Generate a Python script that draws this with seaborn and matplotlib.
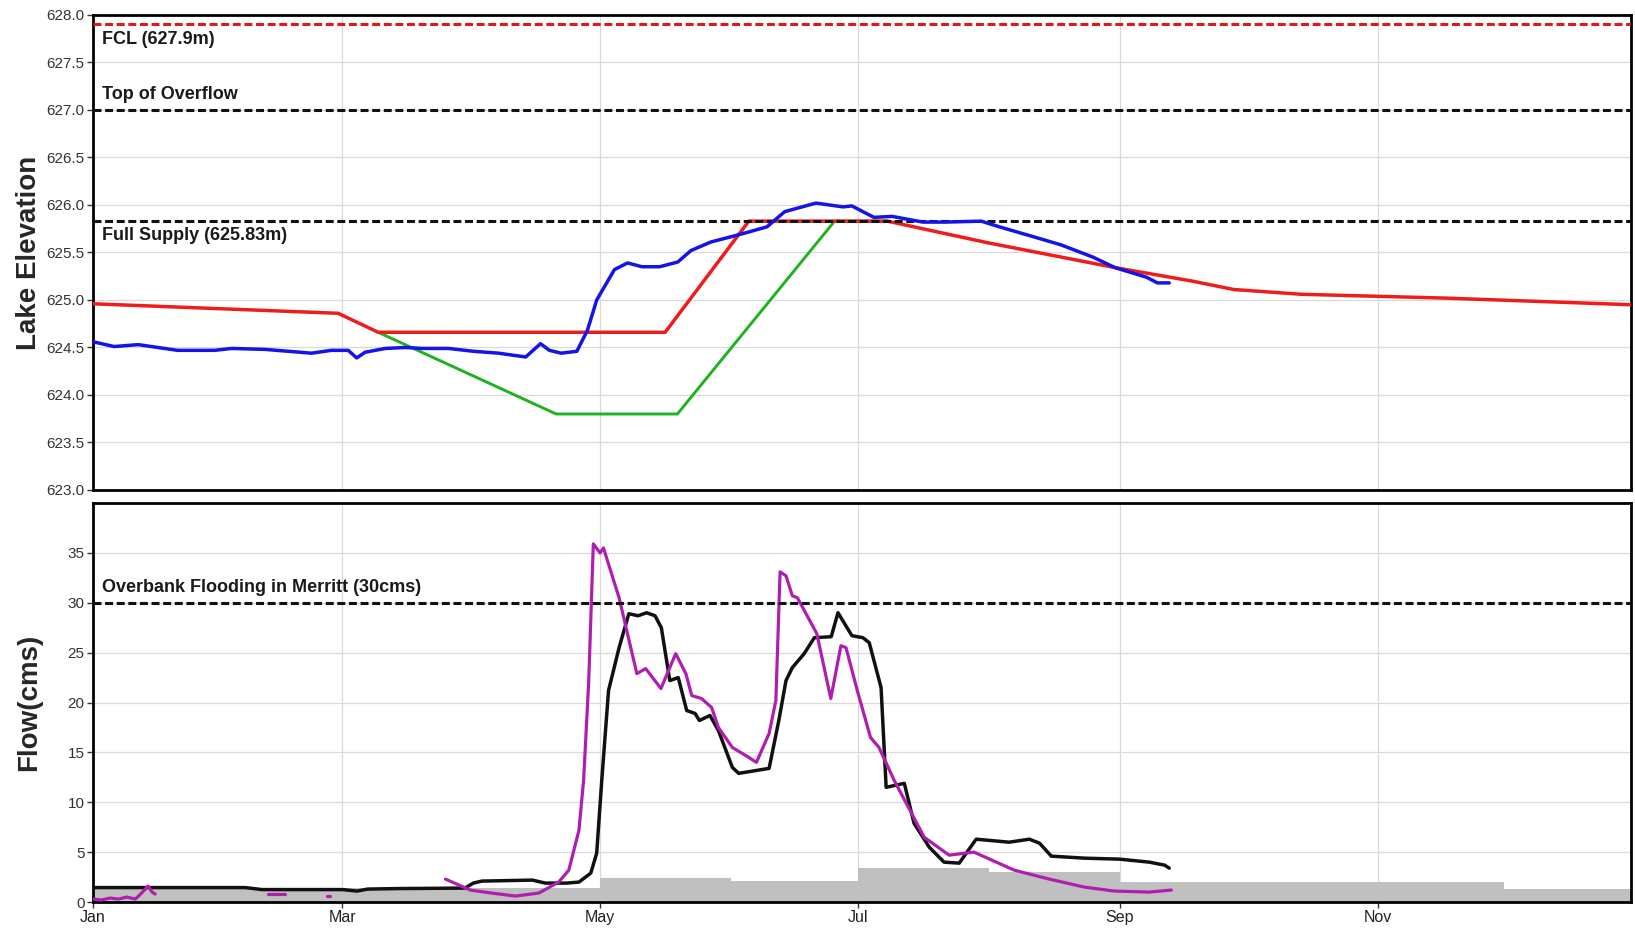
import numpy as np
import pandas as pd
import matplotlib
matplotlib.use("Agg")
import matplotlib.pyplot as plt
import matplotlib.dates as mdates
from matplotlib.ticker import FormatStrFormatter, MultipleLocator
import seaborn as sb

YEAR_START = pd.Timestamp("2017-01-01")

# ---- Lake elevation (m) ; x = days after Jan 1 ----
obs_elev_day = [0, 5, 10.7, 20, 28.8, 32.8, 40.7, 51.7, 56.4, 60.4, 62.4, 64.4, 66.8,
                69.2, 73.9, 77.8, 84.1, 90, 96, 102.4, 105.9, 108, 110.8, 114.5, 117,
                119.2, 123.4, 126.5, 129.9, 134.1, 138.4, 141.5, 146.2, 153.1, 159.5,
                163.7, 171.1, 177.5, 179.6, 184.8, 189.1, 196.4, 201.7, 210.2, 214.5,
                223, 229.1, 236.7, 241.9, 249.3, 251.9, 254.7]
obs_elev = [624.56, 624.51, 624.53, 624.47, 624.47, 624.49, 624.48, 624.44, 624.47,
            624.47, 624.39, 624.45, 624.47, 624.49, 624.50, 624.49, 624.49, 624.46,
            624.44, 624.40, 624.54, 624.47, 624.44, 624.46, 624.68, 625.00, 625.32,
            625.39, 625.35, 625.35, 625.40, 625.52, 625.61, 625.69, 625.77, 625.93,
            626.02, 625.98, 625.99, 625.87, 625.88, 625.82, 625.82, 625.83, 625.77,
            625.66, 625.58, 625.45, 625.34, 625.24, 625.18, 625.18]

upper_rule_day = [0, 58, 67.5, 135.4, 155.2, 188, 212, 242, 260, 270, 286, 320, 364]
upper_rule = [624.96, 624.86, 624.66, 624.66, 625.83, 625.83, 625.60, 625.34, 625.20,
              625.11, 625.06, 625.02, 624.95]

lower_rule_day = [67.5, 109.6, 138.3, 175.5, 188]
lower_rule = [624.66, 623.80, 623.80, 625.83, 625.83]

level_labels = ["FCL (627.9m)", "Top of Overflow", "Full Supply (625.83m)"]
level_values = [627.9, 627.0, 625.83]
level_colors = ["#e01818", "#111111", "#111111"]
level_text_y = [627.74, 627.16, 625.68]

# ---- Flow (cms) ----
obs_flow_day = [0, 36, 40, 59, 62.5, 65, 72, 88, 90, 92, 104, 107, 112, 115, 117.8,
                119.2, 120.4, 122, 124.5, 126.8, 129, 131, 133, 134.5, 136.5, 138.5,
                140.5, 142.5, 143.5, 146, 148, 151.3, 152.8, 160, 162.3, 164, 165.5,
                168.3, 170.7, 174.7, 176.3, 179.6, 182.2, 183.7, 186.5, 187.7, 192,
                194.3, 197.9, 201.4, 205, 209, 216.8, 221.6, 224, 226.8, 234.6, 242.9,
                250, 253.6, 254.7]
obs_flow = [1.45, 1.45, 1.25, 1.25, 1.1, 1.3, 1.35, 1.4, 1.9, 2.1, 2.2, 1.9, 1.9, 2.0,
            2.9, 4.9, 12.2, 21.2, 25.5, 28.9, 28.7, 29.0, 28.7, 27.5, 22.2, 22.5, 19.2,
            18.9, 18.2, 18.7, 17.2, 13.5, 12.9, 13.4, 18.2, 22.2, 23.5, 24.9, 26.5,
            26.6, 29.0, 26.7, 26.5, 26.0, 21.5, 11.5, 11.9, 7.9, 5.5, 4.0, 3.9, 6.3,
            6.0, 6.3, 5.9, 4.6, 4.4, 4.3, 4.0, 3.7, 3.4]

# natural flow, gaps marked with nan
nat_flow_day = [0, 2, 4, 6, 8, 10, 11.5, 13, 14, 14.7, 15,
                41.5, 45.5, 46,
                55.3, 56, 56.5,
                83.4, 89.3, 94.3, 100, 105.5, 110.2, 112.6, 115, 116.1, 117.3, 118.4,
                120, 120.8, 124.5, 128.7, 130.8, 134.4, 137.9, 140.3, 141.7, 144,
                146.4, 148, 151.3, 155.2, 157, 160, 161.6, 162.6, 164, 165.5, 166.7,
                171.3, 174.6, 177, 178.2, 181, 184, 186, 189.6, 196.7, 202.6, 208.5,
                218, 226.3, 234.6, 241.7, 250, 255.2]
nat_flow = [0.3, 0.2, 0.4, 0.3, 0.5, 0.3, 0.9, 1.6, 1.0, 0.8, np.nan,
            0.8, 0.8, np.nan,
            0.6, 0.6, np.nan,
            2.3, 1.2, 0.9, 0.6, 0.9, 2.0, 3.2, 7.2, 12.2, 22.0, 35.9,
            35.0, 35.5, 30.5, 22.9, 23.4, 21.4, 24.9, 22.9, 20.7, 20.4,
            19.5, 17.5, 15.5, 14.5, 14.0, 16.9, 20.2, 33.1, 32.7, 30.7, 30.5,
            26.9, 20.4, 25.7, 25.5, 21.0, 16.5, 15.5, 12.2, 6.5, 4.7, 5.0,
            3.2, 2.3, 1.5, 1.1, 1.0, 1.2]

# monthly minimum flow (step)
min_flow_start = ["2017-01-01", "2017-05-01", "2017-06-01", "2017-07-01", "2017-08-01",
                  "2017-09-01", "2017-12-01", "2017-12-31"]
min_flow = [1.4, 2.4, 2.1, 3.4, 3.0, 2.0, 1.35, 1.35]

flood_label = "Overbank Flooding in Merritt (30cms)"
flood_value = 30
flood_text_y = 31.5


def to_dates(days):
    return YEAR_START + pd.to_timedelta(np.asarray(days, dtype=float), unit="D")


sb.set_theme(style="whitegrid")
plt.rcParams["font.family"] = ["Liberation Sans", "DejaVu Sans"]

fig = plt.figure(figsize=(16.35, 9.31), dpi=100)
ax1 = fig.add_axes([0.0569, 0.4737, 0.9407, 0.5102])
ax2 = fig.add_axes([0.0569, 0.0311, 0.9407, 0.4286])

dash = (0, (2.6, 1.2))

# ---- top panel ----
sb.lineplot(x=to_dates(lower_rule_day), y=lower_rule, ax=ax1, color="#1fb21f",
            linewidth=2.1, zorder=3)
sb.lineplot(x=to_dates(upper_rule_day), y=upper_rule, ax=ax1, color="#ee1c1c",
            linewidth=2.5, zorder=4)
for lab, val, col, ty in zip(level_labels, level_values, level_colors, level_text_y):
    ax1.axhline(val, color=col, linestyle=dash, linewidth=2.2, zorder=5)
    ax1.text(0.006, ty, lab, transform=ax1.get_yaxis_transform(), fontsize=13,
             fontweight="bold", color="#1a1a1a", va="center", ha="left")
sb.lineplot(x=to_dates(obs_elev_day), y=obs_elev, ax=ax1, color="#1414e6",
            linewidth=2.5, zorder=6)

ax1.set_ylim(623, 628)
ax1.yaxis.set_major_locator(MultipleLocator(0.5))
ax1.yaxis.set_major_formatter(FormatStrFormatter("%.1f"))
ax1.set_ylabel("Lake Elevation", fontsize=20, fontweight="bold")

# ---- bottom panel ----
ax2.fill_between(pd.to_datetime(min_flow_start), 0, min_flow, step="post",
                 color="#c0c0c0", linewidth=0, zorder=2)
sb.lineplot(x=to_dates(obs_flow_day), y=obs_flow, ax=ax2, color="#111111",
            linewidth=2.5, zorder=4)
nat = pd.DataFrame({"date": to_dates(nat_flow_day), "flow": nat_flow})
nat["seg"] = nat["flow"].isna().cumsum()
nat = nat.dropna()
sb.lineplot(data=nat, x="date", y="flow", units="seg", estimator=None, ax=ax2,
            color="#b01eb0", linewidth=2.3, zorder=5)
ax2.axhline(flood_value, color="#111111", linestyle=dash, linewidth=2.2, zorder=6)
ax2.text(0.006, flood_text_y, flood_label, transform=ax2.get_yaxis_transform(),
         fontsize=13, fontweight="bold", color="#1a1a1a", va="center", ha="left")

ax2.set_ylim(0, 40)
ax2.set_yticks(np.arange(0, 36, 5))
ax2.set_ylabel("Flow(cms)", fontsize=20, fontweight="bold")
ax2.set_xlabel("")

for ax in (ax1, ax2):
    ax.set_facecolor("white")
    ax.set_xlim(YEAR_START, YEAR_START + pd.Timedelta(days=364))
    ax.xaxis.set_major_locator(mdates.MonthLocator(bymonth=[1, 3, 5, 7, 9, 11]))
    ax.xaxis.set_major_formatter(mdates.DateFormatter("%b"))
    ax.grid(True, color="#dadada", linewidth=0.9)
    for sp in ax.spines.values():
        sp.set_color("black")
        sp.set_linewidth(2.0)
    ax.tick_params(axis="y", which="major", direction="out", length=4, width=1,
                   color="#333333", labelsize=11, labelcolor="#333333", pad=2,
                   left=True)
    ax.yaxis.set_label_coords(-0.033, 0.5)

ax1.tick_params(axis="x", labelbottom=False, length=0)
ax1.set_xlabel("")
ax2.tick_params(axis="x", direction="out", length=4, width=1, color="#333333",
                labelsize=11.5, labelcolor="#222222", pad=2, bottom=True)

fig.savefig("out.png", dpi=100)
